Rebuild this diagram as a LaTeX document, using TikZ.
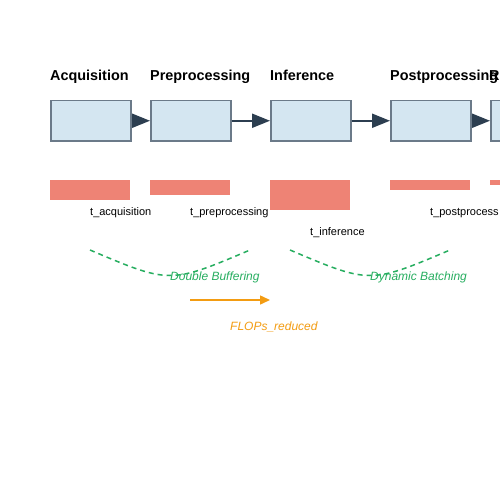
\documentclass[tikz,border=0pt]{standalone}
\usepackage{fontspec}
\setmainfont{Liberation Sans}
\usetikzlibrary{arrows.meta}
\definecolor{boxfill}{HTML}{D4E6F1}
\definecolor{boxline}{HTML}{6B7A89}
\definecolor{darkarrow}{HTML}{2C3E50}
\definecolor{barcol}{HTML}{EE8375}
\definecolor{greencol}{HTML}{27AE60}
\definecolor{orangecol}{HTML}{F39C12}
\tikzset{
  stagebox/.style={draw=boxline, fill=boxfill, line width=1.5pt, minimum width=80pt, minimum height=40pt, inner sep=0pt, anchor=north west},
  stagetitle/.style={anchor=base west, font=\fontsize{14.4}{16}\selectfont\bfseries, inner sep=0pt},
  flowarrow/.style={draw=darkarrow, line width=2pt, -{Triangle[length=18pt,width=14pt]}},
  timebar/.style={fill=barcol, draw=none, inner sep=0pt, anchor=north west, minimum width=80pt},
  timelabel/.style={anchor=base west, font=\fontsize{11}{13}\selectfont, inner sep=0pt},
  optcurve/.style={draw=greencol, line width=1.5pt, dash pattern=on 5pt off 4pt},
  optlabel/.style={anchor=base west, font=\fontsize{12}{14}\selectfont\itshape, text=greencol, inner sep=0pt},
  flopsarrow/.style={draw=orangecol, line width=1.5pt, -{Triangle[length=10pt,width=9pt]}},
  flopslabel/.style={anchor=base west, font=\fontsize{12}{14}\selectfont\itshape, text=orangecol, inner sep=0pt}
}
\begin{document}
\begin{tikzpicture}[x=1pt,y=-1pt]
\useasboundingbox (0,0) rectangle (500,500);
\clip (0,0) rectangle (500,500);
\fill[white] (0,0) rectangle (500,500);
% titles
\node[stagetitle] (t1) at (50,81) {Acquisition};
\node[stagetitle] (t2) at (150,81) {Preprocessing};
\node[stagetitle] (t3) at (270,81) {Inference};
\node[stagetitle] (t4) at (390,81) {Postprocessing};
\node[stagetitle] (t5) at (489,81) {R};
% boxes
\node[stagebox] (b1) at (50,100) {};
\node[stagebox] (b2) at (150,100) {};
\node[stagebox] (b3) at (270,100) {};
\node[stagebox] (b4) at (390,100) {};
\node[stagebox] (b5) at (490,100) {};
% arrows
\draw[flowarrow] (b1.east) -- (b2.west);
\draw[flowarrow] (b2.east) -- (b3.west);
\draw[flowarrow] (b3.east) -- (b4.west);
\draw[flowarrow] (b4.east) -- (b5.west);
% bars
\node[timebar, minimum height=20pt] (r1) at (50,180) {};
\node[timebar, minimum height=15pt] (r2) at (150,180) {};
\node[timebar, minimum height=30pt] (r3) at (270,180) {};
\node[timebar, minimum height=10pt] (r4) at (390,180) {};
\node[timebar, minimum height=5pt] (r5) at (490,180) {};
% bar labels
\node[timelabel] (l1) at (90,215) {t\_acquisition};
\node[timelabel] (l2) at (190,215) {t\_preprocessing};
\node[timelabel] (l3) at (310,235) {t\_inference};
\node[timelabel] (l4) at (430,215) {t\_postprocess};
% optimisation curves
\coordinate (c1a) at (90,250);
\coordinate (c1b) at (250,250);
\coordinate (c2a) at (290,250);
\coordinate (c2b) at (450,250);
\draw[optcurve] (c1a) .. controls (170,284) .. (c1b);
\draw[optcurve] (c2a) .. controls (370,284) .. (c2b);
\node[optlabel] (o1) at (170,280) {Double Buffering};
\node[optlabel] (o2) at (370,280) {Dynamic Batching};
% flops arrow
\coordinate (fa) at (190,300);
\coordinate (fb) at (270,300);
\draw[flopsarrow] (fa) -- (fb);
\node[flopslabel] (fl) at (230,330) {FLOPs\_reduced};
\end{tikzpicture}
\end{document}
